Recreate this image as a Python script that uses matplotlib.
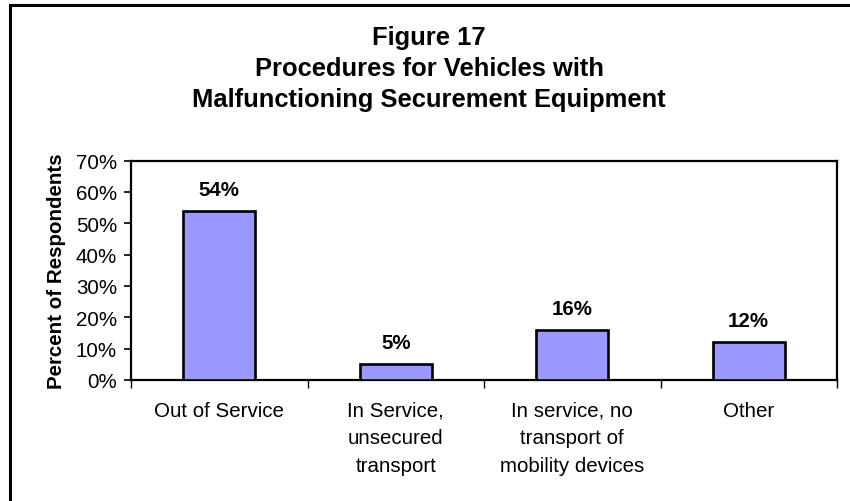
import matplotlib
matplotlib.use("Agg")
import matplotlib.pyplot as plt
from matplotlib.patches import Rectangle
from matplotlib.ticker import FixedLocator, PercentFormatter

plt.rcParams['font.family'] = ['Liberation Sans', 'DejaVu Sans']

categories = ["Out of Service",
              "In Service,\nunsecured\ntransport",
              "In service, no\ntransport of\nmobility devices",
              "Other"]
values = [54, 5, 16, 12]
value_labels = ["54%", "5%", "16%", "12%"]
yticks = [0, 10, 20, 30, 40, 50, 60, 70]
title = "Figure 17\nProcedures for Vehicles with\nMalfunctioning Securement Equipment"
ylabel = "Percent of Respondents"

W, H = 850, 502
fig = plt.figure(figsize=(W / 100, H / 100), dpi=100)
fig.patch.set_facecolor("white")

# outer frame
fig.patches.append(Rectangle((9.5 / W, -0.1), 2.0, (H - 6) / H + 0.1,
                             transform=fig.transFigure, fill=False,
                             edgecolor="black", linewidth=2.2, zorder=0))

ax = fig.add_axes([131 / W, 1 - 381 / H, (837 - 131) / W, (381 - 161.5) / H])
x = list(range(len(categories)))
ax.bar(x, values, width=0.41, color="#9999FF", edgecolor="black",
       linewidth=1.9, zorder=3)
for xi, v, lab in zip(x, values, value_labels):
    ax.annotate(lab, (xi, v), xytext=(0, 16), textcoords="offset pixels",
                ha="center", va="baseline", fontsize=14.8, fontweight="bold")

ax.set_xlim(-0.5, len(categories) - 0.5)
ax.set_ylim(0, 70)
ax.set_yticks(yticks)
ax.yaxis.set_major_formatter(PercentFormatter(decimals=0))
ax.set_xticks(x)
ax.set_xticklabels(categories, fontsize=14.8, linespacing=1.56, va="top")
ax.xaxis.set_minor_locator(FixedLocator([i - 0.5 for i in range(len(categories) + 1)]))
ax.tick_params(axis="x", which="major", length=0, pad=15)
ax.tick_params(axis="x", which="minor", length=6, width=1, direction="out")
ax.tick_params(axis="y", labelsize=14.8, length=5, width=1.2, pad=5)
for s in ax.spines.values():
    s.set_linewidth(1.6)
    s.set_color("black")
ax.set_ylabel(ylabel, fontsize=14.8, fontweight="bold", labelpad=7)

fig.text(429 / W, 1 - 107 / H, title, ha="center", va="baseline",
         fontsize=18.4, fontweight="bold", linespacing=1.38,
         multialignment="center")

fig.savefig("out.png", dpi=100)
